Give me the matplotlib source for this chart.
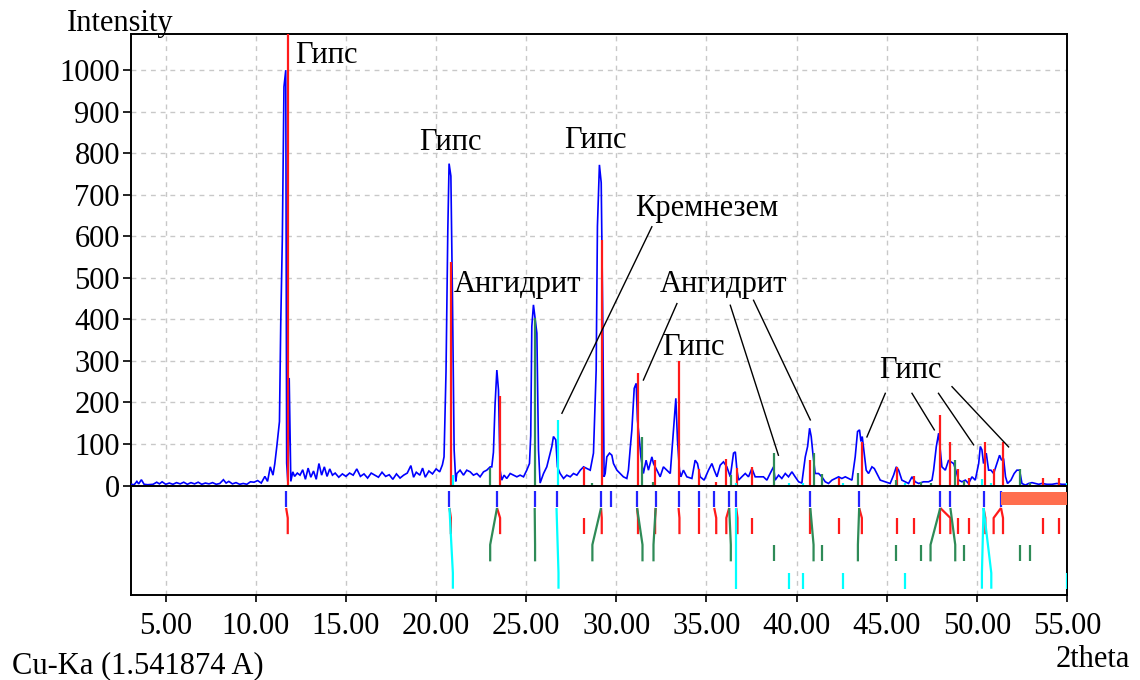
import numpy as np
import matplotlib
matplotlib.use("Agg")
import matplotlib.pyplot as plt
from matplotlib.patches import Rectangle

# ---------------- data ----------------
two_theta = [
    3.10, 3.25, 3.40, 3.50, 3.65, 3.80, 4.00, 4.30, 4.50, 4.65, 4.80, 5.00, 5.20, 5.40, 5.60,
    5.80, 6.00, 6.20, 6.40, 6.60, 6.80, 7.00, 7.20, 7.40, 7.60, 7.80, 8.00, 8.20, 8.35, 8.50,
    8.70, 8.90, 9.10, 9.30, 9.50, 9.70, 9.90, 10.10, 10.30, 10.50, 10.65, 10.80, 10.95, 11.05,
    11.16, 11.31, 11.38, 11.47, 11.56, 11.66, 11.71, 11.78, 11.85, 11.94, 12.05, 12.15, 12.30,
    12.45, 12.60, 12.75, 12.90, 13.05, 13.20, 13.35, 13.50, 13.65, 13.80, 13.95, 14.10, 14.25,
    14.40, 14.60, 14.80, 15.00, 15.20, 15.40, 15.60, 15.80, 16.00, 16.20, 16.40, 16.60, 16.80,
    17.00, 17.20, 17.40, 17.60, 17.80, 18.00, 18.20, 18.40, 18.60, 18.75, 18.90, 19.10, 19.25,
    19.40, 19.60, 19.80, 20.00, 20.20, 20.35, 20.44, 20.55, 20.65, 20.72, 20.82, 20.91, 21.00,
    21.09, 21.15, 21.33, 21.52, 21.70, 21.89, 22.07, 22.26, 22.44, 22.63, 22.81, 23.00, 23.09,
    23.18, 23.27, 23.37, 23.46, 23.55, 23.64, 23.77, 23.92, 24.11, 24.29, 24.48, 24.66, 24.85,
    25.03, 25.18, 25.25, 25.31, 25.40, 25.50, 25.59, 25.68, 25.77, 25.96, 26.14, 26.23, 26.42,
    26.51, 26.64, 26.73, 26.88, 27.07, 27.25, 27.44, 27.62, 27.81, 28.00, 28.18, 28.36, 28.55,
    28.73, 28.88, 28.95, 29.06, 29.16, 29.25, 29.32, 29.38, 29.47, 29.62, 29.75, 29.84, 30.03,
    30.21, 30.39, 30.58, 30.67, 30.77, 30.86, 30.99, 31.10, 31.17, 31.28, 31.36, 31.50, 31.65,
    31.78, 31.97, 32.06, 32.25, 32.43, 32.61, 32.80, 32.99, 33.17, 33.30, 33.39, 33.50, 33.58,
    33.72, 33.91, 34.19, 34.37, 34.50, 34.65, 34.87, 35.11, 35.30, 35.43, 35.58, 35.76, 35.94,
    36.13, 36.32, 36.50, 36.60, 36.69, 36.78, 36.96, 37.15, 37.33, 37.52, 37.70, 37.98, 38.16,
    38.35, 38.53, 38.72, 38.81, 39.00, 39.18, 39.37, 39.55, 39.74, 39.92, 40.11, 40.29, 40.48,
    40.61, 40.72, 40.81, 40.90, 41.03, 41.22, 41.40, 41.59, 41.77, 41.96, 42.14, 42.33, 42.51,
    42.70, 42.88, 43.07, 43.25, 43.38, 43.49, 43.57, 43.64, 43.75, 43.86, 43.99, 44.18, 44.31,
    44.45, 44.64, 44.92, 45.19, 45.38, 45.53, 45.66, 45.84, 46.03, 46.21, 46.40, 46.58, 46.77,
    47.04, 47.32, 47.51, 47.60, 47.75, 47.88, 47.97, 48.06, 48.25, 48.43, 48.56, 48.71, 48.86,
    48.99, 49.17, 49.36, 49.54, 49.73, 49.91, 50.10, 50.19, 50.28, 50.37, 50.52, 50.65, 50.78,
    50.93, 51.11, 51.26, 51.37, 51.48, 51.59, 51.70, 51.89, 52.07, 52.22, 52.37, 52.50, 52.69,
    52.87, 53.06, 53.24, 53.43, 53.61, 53.89, 54.17, 54.44, 54.72, 54.96,
]
intensity = [
    3, 2, 10, 4, 14, 3, 2, 3, 8, 4, 9, 3, 6, 3, 7,
    4, 8, 3, 7, 4, 8, 3, 6, 4, 7, 3, 5, 14, 6, 10,
    4, 7, 3, 5, 3, 9, 8, 12, 6, 22, 10, 45, 25, 52,
    93, 154, 387, 596, 960, 1000, 54, 4, 259, 10, 33, 22, 30,
    25, 38, 15, 42, 20, 35, 15, 53, 25, 45, 22, 40, 25,
    30, 20, 28, 22, 30, 25, 40, 22, 28, 18, 30, 25, 20,
    32, 22, 26, 15, 28, 18, 25, 30, 48, 20, 32, 25, 42,
    20, 35, 28, 40, 33, 50, 69, 274, 616, 775, 745, 443, 86,
    10, 29, 37, 25, 37, 33, 25, 29, 21, 33, 37, 45, 45,
    80, 194, 278, 230, 37, 13, 25, 17, 29, 25, 21, 25, 21,
    37, 53, 120, 383, 435, 400, 367, 86, 6, 29, 45, 61, 94,
    118, 110, 45, 29, 17, 25, 21, 29, 25, 37, 45, 41, 37,
    78, 278, 624, 772, 729, 383, 21, 29, 69, 78, 73, 53, 37,
    29, 21, 17, 37, 90, 134, 234, 246, 158, 110, 69, 29, 61,
    37, 69, 53, 37, 21, 45, 37, 29, 134, 210, 110, 37, 21,
    37, 21, 17, 61, 53, 21, 13, 37, 53, 37, 21, 49, 57,
    45, 21, 78, 81, 37, 13, 21, 29, 21, 41, 21, 21, 21,
    13, 29, 45, 13, 25, 17, 29, 21, 33, 21, 9, 6, 69,
    94, 138, 118, 78, 29, 29, 21, 9, 5, 13, 17, 21, 17,
    21, 17, 13, 69, 130, 134, 106, 118, 78, 37, 29, 45, 41,
    29, 13, 9, 5, 25, 45, 37, 13, 9, 5, 21, 9, 5,
    9, 9, 13, 37, 94, 126, 86, 45, 37, 61, 57, 53, 33,
    13, 9, 13, 5, 21, 13, 53, 94, 86, 53, 78, 37, 37,
    29, 53, 73, 61, 65, 21, 5, 13, 29, 37, 37, 5, 1,
    5, 7, 5, 3, 5, 3, 3, 5, 3, 3,
]

# observed (measured) peak positions, blue marks
observed_peaks = [11.68, 20.74, 23.38, 25.47, 26.68, 29.15, 29.68, 31.15, 32.18, 33.45,
                  34.61, 35.43, 36.26, 36.65, 40.76, 43.47, 47.97, 48.53, 50.37, 51.34]

nan = float("nan")
# gypsum (red)
gypsum_pos = [11.77, 20.82, 23.55, 28.21, 29.19, 31.20, 32.15, 33.50, 34.61, 35.54, 36.10,
              36.72, 37.55, 40.76, 42.33, 43.62, 45.56, 46.52, 47.97, 48.53, 48.93, 49.54,
              50.47, 50.93, 51.45, 53.67, 54.57]
gypsum_int = [1200, 539, 216, 44, 591, 271, 61, 301, 41, 9, 63,
              42, 45, 61, 18, 105, 45, 23, 171, 106, 41, 19,
              106, 41, 106, 19, 19]
gypsum_match = [11.68, 20.74, 23.38, nan, 29.15, 31.15, 32.18, 33.45, 34.61, 35.43, 36.26,
                36.65, nan, 40.76, nan, 43.47, nan, nan, 47.97, 47.97, nan, nan,
                50.37, 51.34, 51.34, nan, nan]
# anhydrite (green)
anhydrite_pos = [23.00, 25.49, 28.67, 31.45, 32.06, 36.35, 38.72, 40.94, 41.40, 43.40, 45.51,
                 46.90, 47.43, 48.80, 49.26, 52.37, 52.93]
anhydrite_int = [43, 403, 6, 116, 9, 25, 79, 78, 28, 29, 13, 9, 6, 61, 12, 41, 6]
anhydrite_match = [23.38, 25.47, 29.15, 31.15, 32.18, 36.26, nan, 40.76, nan, 43.47, nan,
                   nan, 47.97, 48.53, nan, nan, nan]
# quartz / silica (cyan)
quartz_pos = [20.93, 26.79, 36.65, 39.55, 40.38, 42.60, 45.99, 50.28, 50.80, 55.00]
quartz_int = [25, 158, 7, 6, 5, 5, 6, 16, 5, 5]
quartz_match = [20.74, 26.68, 36.65, nan, nan, nan, nan, 50.37, 50.37, nan]

excluded_range = [51.34, 55.0]

x_ticks = [5, 10, 15, 20, 25, 30, 35, 40, 45, 50, 55]
x_tick_labels = ["5.00", "10.00", "15.00", "20.00", "25.00", "30.00", "35.00",
                 "40.00", "45.00", "50.00", "55.00"]
y_ticks = [0, 100, 200, 300, 400, 500, 600, 700, 800, 900, 1000]
y_tick_labels = [str(v) for v in y_ticks]

# annotations: text, x (left), y (baseline)
annotations = [
    ("Гипс", 12.17, 1017),
    ("Гипс", 19.07, 808),
    ("Гипс", 27.12, 812),
    ("Кремнезем", 31.04, 648),
    ("Ангидрит", 21.00, 465),
    ("Ангидрит", 32.43, 467),
    ("Гипс", 32.52, 314),
    ("Гипс", 44.55, 258),
]
leader_lines = [
    ((31.97, 623), (26.98, 174)),
    ((33.36, 438), (31.50, 254)),
    ((36.32, 434), (38.99, 73)),
    ((37.61, 446), (40.76, 158)),
    ((44.92, 222), (43.90, 117)),
    ((46.40, 222), (47.64, 134)),
    ((47.87, 222), (49.82, 98)),
    ((48.62, 238), (51.76, 93)),
]

# ---------------- style ----------------
FONT = "Liberation Serif"
FS = 22
plt.rcParams["font.family"] = [FONT, "DejaVu Serif"]

fig = plt.figure(figsize=(11.4, 6.8), dpi=100)
ax = fig.add_axes([131 / 1140, 1 - 595 / 680, (1067 - 131) / 1140, (595 - 34) / 680])
ax.set_xlim(3.074, 55.0)
ax.set_ylim(-263.5, 1087)

BLUE = "#0000ff"
RED = "#ff1a1a"
GREEN = "#2e8b57"
CYAN = "#00ffff"
GRID = "#c8c8c8"

# grid
for xv in x_ticks[:-1]:
    ax.axvline(xv, color=GRID, lw=1.0, ls=(0, (3.5, 3.5)), zorder=0)
for yv in y_ticks[1:]:
    ax.axhline(yv, color=GRID, lw=1.0, ls=(0, (3.5, 3.5)), zorder=0)

# measured profile
ax.plot(two_theta, intensity, color=BLUE, lw=1.2, zorder=3, solid_joinstyle="miter")

# phase sticks (upper region)
for pos, ints, col in [(gypsum_pos, gypsum_int, RED),
                       (anhydrite_pos, anhydrite_int, GREEN),
                       (quartz_pos, quartz_int, CYAN)]:
    ax.vlines(pos, 0, ints, colors=col, lw=1.6, zorder=4)

# zero line
ax.axhline(0, color="black", lw=1.4, zorder=5)

# lower marker rows
BLUE_ROW = (-12.5, -52.5)
CONN_Y = -54
rows = [(gypsum_pos, gypsum_match, RED, (-78, -117)),
        (anhydrite_pos, anhydrite_match, GREEN, (-142.5, -182.5)),
        (quartz_pos, quartz_match, CYAN, (-210.6, -248.4))]
ax.vlines(observed_peaks, BLUE_ROW[0], BLUE_ROW[1], colors="#2323ff", lw=1.6, zorder=4)
for pos, match, col, (top, bot) in rows:
    for p, m in zip(pos, match):
        if np.isnan(m):
            ax.plot([p, p], [top, bot], color=col, lw=1.6, zorder=4,
                    solid_capstyle="butt")
        else:
            ax.plot([m, p, p], [CONN_Y, top, bot], color=col, lw=1.6, zorder=4,
                    solid_capstyle="butt")

ax.add_patch(Rectangle((excluded_range[0], -47), excluded_range[1] - excluded_range[0], 32,
                       facecolor="#ff6e4e", edgecolor="none", zorder=4))

# annotations
for txt, x, y in annotations:
    ax.text(x, y, txt, fontsize=FS, family=FONT, color="black", ha="left",
            va="baseline", zorder=6)
for (x1, y1), (x2, y2) in leader_lines:
    ax.plot([x1, x2], [y1, y2], color="black", lw=1.0, zorder=6)

# axes / ticks
for s in ax.spines.values():
    s.set_color("black")
    s.set_linewidth(1.4)
ax.set_xticks(x_ticks)
ax.set_xticklabels(x_tick_labels, fontsize=FS, family=FONT)
ax.set_yticks(y_ticks)
ax.set_yticklabels(y_tick_labels, fontsize=FS, family=FONT)
ax.tick_params(axis="x", direction="out", length=5, width=1.2, pad=7)
ax.tick_params(axis="y", direction="out", length=6, width=1.2, pad=2)

fig.text(66.7 / 1140, 1 - 30.7 / 680, "Intensity", fontsize=FS, family=FONT,
         ha="left", va="baseline")
fig.text(11.7 / 1140, 1 - 673.3 / 680, "Cu-Ka (1.541874 A)", fontsize=FS, family=FONT,
         ha="left", va="baseline")
fig.text(1130 / 1140, 1 - 666.7 / 680, "2theta", fontsize=FS, family=FONT,
         ha="right", va="baseline")

fig.savefig("out.png", dpi=100)
